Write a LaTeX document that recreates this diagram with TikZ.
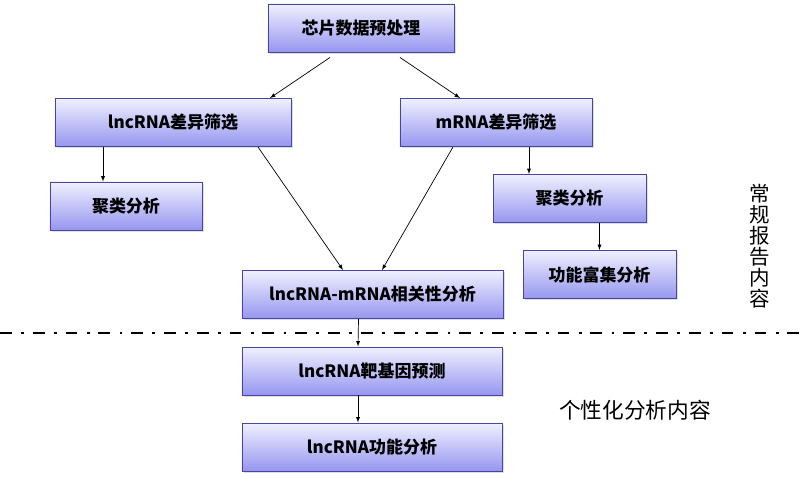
\documentclass[tikz,border=0pt]{standalone}
\usepackage{fontspec}
\setmainfont{Noto Sans CJK SC}
\usepackage{tikz}
\usetikzlibrary{calc, shadows}
\definecolor{boxtop}{RGB}{240, 240, 255}
\definecolor{boxbot}{RGB}{150, 150, 240}
\definecolor{boxline}{RGB}{70, 70, 160}

\tikzset{
    stepbox/.style={draw=boxline, thick, top color=boxtop, bottom color=boxbot,
        minimum height=1.44cm, inner sep=2pt, font=\fontsize{14.5}{16}\selectfont\bfseries,
        drop shadow={opacity=0.25, shadow xshift=1.5pt, shadow yshift=-1.5pt}},
    link/.style={-latex, semithick},
    sideline/.style={line width=2.4pt, dash pattern=on 10pt off 8pt on 2.5pt off 7.5pt}
}

\begin{document}
\begin{tikzpicture}[x=0.03cm, y=-0.03cm]
    \useasboundingbox (0,0) rectangle (800,478);

    % Routine analysis
    \node[stepbox, minimum width=5.58cm] (prep) at (361,28) {芯片数据预处理};
    \node[stepbox, minimum width=7.08cm] (lnc) at (173,122.5) {lncRNA差异筛选};
    \node[stepbox, minimum width=5.76cm] (mrna) at (496,122.5) {mRNA差异筛选};
    \node[stepbox, minimum width=4.56cm] (lclus) at (126,206) {聚类分析};
    \node[stepbox, minimum width=4.59cm] (mclus) at (569.5,198.5) {聚类分析};
    \node[stepbox, minimum width=4.59cm] (enrich) at (599.5,274.5) {功能富集分析};
    \node[stepbox, minimum width=7.83cm] (corr) at (372.5,294.5) {lncRNA-mRNA相关性分析};

    % Custom analysis
    \node[stepbox, minimum width=7.8cm] (target) at (372,371) {lncRNA靶基因预测};
    \node[stepbox, minimum width=7.8cm] (func) at (372,447) {lncRNA功能分析};

    % Separator
    \draw[sideline] (0,333) -- (800,333);

    % Side labels
    \node[align=center, font=\fontsize{17.5}{18}\selectfont] (routine) at (760,246)
        {常\\规\\报\\告\\内\\容};
    \node[font=\fontsize{18.5}{20}\selectfont] (custom) at (635,410) {个性化分析内容};

    % Arrows
    \draw[link] ($(prep.south)+(-31,5)$) -- ($(lnc.north)+(97,0)$);
    \draw[link] ($(prep.south)+(39,5)$) -- ($(mrna.north)+(-36,0)$);
    \draw[link] ($(lnc.south)+(-70,0)$) -- ($(lclus.north)+(-23,0)$);
    \draw[link] ($(mrna.south)+(33,0)$) -- ($(mclus.north)+(-40.5,0)$);
    \draw[link] (enrich.north |- mclus.south) -- (enrich.north);
    \draw[link] ($(lnc.south)+(85,0)$) -- ($(corr.north)+(-29.5,0)$);
    \draw[link] ($(mrna.south)+(-43,0)$) -- ($(corr.north)+(9.5,0)$);
    \draw[link] ($(corr.south)+(-14,0)$) -- ($(target.north)+(-14,0)$);
    \draw[link] ($(target.south)+(-14,0)$) -- ($(func.north)+(-14,0)$);
\end{tikzpicture}
\end{document}
